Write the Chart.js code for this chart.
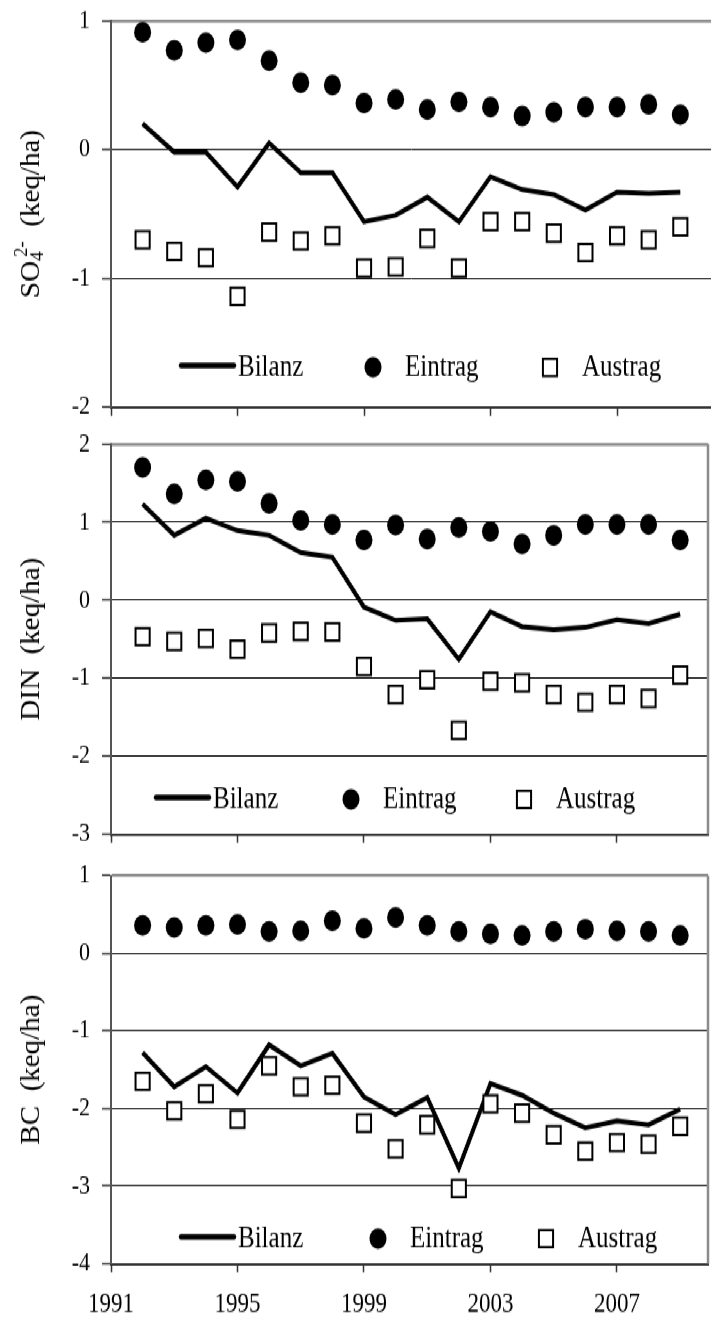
<!DOCTYPE html>
<html>
<head>
<meta charset="utf-8">
<script src="https://cdn.jsdelivr.net/npm/chart.js@4.4.1/dist/chart.umd.min.js"></script>
<style>
  html, body { margin: 0; padding: 0; background: #fff; }
  #sheet { position: relative; width: 711px; height: 1318px; overflow: hidden; }
  /* the three panels are drawn flat and stretched vertically as one sheet */
  #page { position: absolute; left: 0; top: 0; width: 711px; height: 1080px; transform: scaleY(1.2204); transform-origin: 0 0; }
  #page canvas { position: absolute; left: 0; }
</style>
</head>
<body>
<div id="sheet">
<div id="page">
  <canvas id="so4Chart" width="711" height="350" style="top:0"></canvas>
  <canvas id="dinChart" width="711" height="350" style="top:350px"></canvas>
  <canvas id="bcChart" width="711" height="380" style="top:700px"></canvas>
</div>
</div>
<script>
const years = [1992, 1993, 1994, 1995, 1996, 1997, 1998, 1999, 2000,
               2001, 2002, 2003, 2004, 2005, 2006, 2007, 2008, 2009];
const yearTicks = [1991, 1995, 1999, 2003, 2007];

// SO4 2- (keq/ha)
const so4Bilanz  = [0.20, -0.02, -0.02, -0.29, 0.05, -0.18, -0.18, -0.56, -0.51, -0.37, -0.56, -0.21, -0.31, -0.35, -0.47, -0.33, -0.34, -0.33];
const so4Eintrag = [0.91, 0.77, 0.83, 0.85, 0.69, 0.52, 0.50, 0.36, 0.39, 0.31, 0.37, 0.33, 0.26, 0.29, 0.33, 0.33, 0.35, 0.27];
const so4Austrag = [-0.70, -0.79, -0.84, -1.14, -0.64, -0.71, -0.67, -0.92, -0.91, -0.69, -0.92, -0.56, -0.56, -0.65, -0.80, -0.67, -0.70, -0.60];

// DIN (keq/ha)
const dinBilanz  = [1.23, 0.83, 1.05, 0.89, 0.83, 0.61, 0.55, -0.09, -0.26, -0.24, -0.76, -0.15, -0.34, -0.38, -0.35, -0.25, -0.30, -0.18];
const dinEintrag = [1.70, 1.36, 1.54, 1.52, 1.24, 1.02, 0.97, 0.77, 0.96, 0.78, 0.93, 0.88, 0.72, 0.83, 0.97, 0.97, 0.97, 0.77];
const dinAustrag = [-0.47, -0.53, -0.49, -0.63, -0.42, -0.40, -0.41, -0.85, -1.21, -1.02, -1.67, -1.04, -1.06, -1.21, -1.31, -1.21, -1.26, -0.96];

// BC (keq/ha)
const bcBilanz  = [-1.28, -1.72, -1.46, -1.80, -1.18, -1.45, -1.29, -1.85, -2.08, -1.86, -2.77, -1.68, -1.83, -2.06, -2.25, -2.16, -2.21, -2.01];
const bcEintrag = [0.36, 0.33, 0.36, 0.37, 0.28, 0.29, 0.42, 0.32, 0.46, 0.36, 0.28, 0.25, 0.23, 0.28, 0.31, 0.29, 0.28, 0.23];
const bcAustrag = [-1.65, -2.03, -1.81, -2.14, -1.45, -1.72, -1.70, -2.19, -2.52, -2.21, -3.03, -1.94, -2.06, -2.34, -2.55, -2.44, -2.46, -2.23];

const serif = '"Liberation Serif", "Times New Roman", serif';

// frame, in-plot legend and the rotated y title (with sub/superscripts)
const panelDecor = {
    id: 'panelDecor',
    afterDraw(chart, args, opts) {
        const ctx = chart.ctx;
        const area = chart.chartArea;
        ctx.save();

        if (opts.frameRight) {
            ctx.strokeStyle = '#8c8c8c';
            ctx.lineWidth = 2.5;
            ctx.beginPath();
            ctx.moveTo(area.right, area.top);
            ctx.lineTo(area.right, area.bottom);
            ctx.stroke();
        }

        // legend
        const ly = area.bottom - opts.legendLift;
        ctx.font = '25px ' + serif;
        ctx.textBaseline = 'middle';
        chart.data.datasets.forEach(function (ds, i) {
            const x = opts.legendX[i];
            let textX;
            if (ds.pointRadius === 0) {
                ctx.strokeStyle = ds.borderColor;
                ctx.lineWidth = 4.5;
                ctx.lineCap = 'round';
                ctx.beginPath();
                ctx.moveTo(x, ly - 1.5);
                ctx.lineTo(x + 53, ly - 1.5);
                ctx.stroke();
                textX = x + 57;
            } else {
                ctx.fillStyle = ds.pointBackgroundColor;
                ctx.strokeStyle = ds.pointBorderColor || '#000';
                ctx.lineWidth = ds.pointBorderWidth;
                Chart.helpers.drawPoint(ctx, {
                    pointStyle: ds.pointStyle,
                    radius: ds.pointRadius,
                    borderWidth: ds.pointBorderWidth,
                    rotation: 0
                }, x, ly);
                textX = x + 32;
            }
            ctx.fillStyle = '#000';
            ctx.fillText(ds.label, textX, ly);
        });

        // y title, rotated
        const t = opts.title;
        ctx.translate(t.x, (area.top + area.bottom) / 2);
        ctx.rotate(-Math.PI / 2);
        ctx.scale(t.squeeze, 1);
        ctx.textBaseline = 'alphabetic';
        ctx.fillStyle = '#000';
        let pos = 0;
        const placed = t.parts.map(function (p) {
            ctx.font = p.size + 'px ' + serif;
            const w = ctx.measureText(p.text).width;
            const start = pos - (p.back || 0);
            pos = start + w;
            return { p: p, start: start };
        });
        placed.forEach(function (q) {
            ctx.font = q.p.size + 'px ' + serif;
            ctx.fillText(q.p.text, q.start - pos / 2, q.p.dy || 0);
        });
        ctx.restore();
    }
};

function makeChart(id, cfg) {
    const pts = vals => years.map((yr, i) => ({ x: yr, y: vals[i] }));
    return new Chart(document.getElementById(id), {
        type: 'line',
        data: {
            datasets: [
                {
                    label: 'Bilanz',
                    data: pts(cfg.bilanz),
                    borderColor: '#000',
                    borderWidth: 4,
                    pointRadius: 0,
                    tension: 0,
                    order: 3
                },
                {
                    label: 'Eintrag',
                    data: pts(cfg.eintrag),
                    showLine: false,
                    pointStyle: 'circle',
                    pointRadius: 8.5,
                    pointBackgroundColor: '#000',
                    pointBorderColor: '#000',
                    pointBorderWidth: 0,
                    order: 2
                },
                {
                    label: 'Austrag',
                    data: pts(cfg.austrag),
                    showLine: false,
                    pointStyle: 'rect',
                    pointRadius: 10,
                    pointBackgroundColor: '#fff',
                    pointBorderColor: '#000',
                    pointBorderWidth: 2,
                    order: 1
                }
            ]
        },
        options: {
            responsive: false,
            animation: false,
            clip: false,
            layout: {
                autoPadding: false,
                padding: { top: cfg.padTop, right: cfg.padRight, left: 0, bottom: 0 }
            },
            plugins: {
                legend: { display: false },
                tooltip: { enabled: false },
                panelDecor: {
                    frameRight: cfg.frameRight,
                    legendLift: cfg.legendLift,
                    legendX: cfg.legendX,
                    title: cfg.title
                }
            },
            scales: {
                x: {
                    type: 'linear',
                    min: 1991,
                    max: cfg.xMax,
                    afterBuildTicks: function (scale) {
                        scale.ticks = yearTicks.map(v => ({ value: v }));
                    },
                    afterFit: function (scale) {
                        scale.height = cfg.xHeight;
                        scale.paddingLeft = scale.paddingRight = 0;
                    },
                    ticks: {
                        display: cfg.showYears,
                        color: '#000',
                        font: { family: serif, size: 23 },
                        padding: 13,
                        maxRotation: 0,
                        callback: v => String(v)
                    },
                    grid: {
                        drawOnChartArea: false,
                        drawTicks: true,
                        tickLength: 7,
                        tickColor: '#333',
                        tickWidth: 1.5
                    },
                    border: { color: '#333', width: 2 }
                },
                y: {
                    min: cfg.yMin,
                    max: cfg.yMax,
                    afterFit: function (scale) {
                        // the plot box is set by the layout padding, not by label overflow
                        scale.width = 111;
                        scale.paddingTop = scale.paddingBottom = 0;
                    },
                    ticks: {
                        stepSize: 1,
                        color: '#000',
                        font: { family: serif, size: 22 },
                        padding: 12,
                        callback: v => String(v)
                    },
                    grid: {
                        color: c => (c.tick && c.tick.value === cfg.yMax) ? '#8c8c8c' : '#000',
                        lineWidth: c => (c.tick && c.tick.value === cfg.yMax) ? 2.5 : 1,
                        tickLength: 9,
                        tickColor: '#333',
                        tickWidth: 1.5
                    },
                    border: { color: '#555', width: 2 }
                }
            }
        },
        plugins: [panelDecor]
    });
}

const unitParts = [{ text: '  (keq/ha)', size: 28 }];

makeChart('so4Chart', {
    bilanz: so4Bilanz, eintrag: so4Eintrag, austrag: so4Austrag,
    yMin: -2, yMax: 1, xMax: 2009.97,
    padTop: 17, padRight: 0, xHeight: 16.3,
    frameRight: false, showYears: false,
    legendLift: 32.6, legendX: [181, 373, 550],
    title: {
        x: 39, squeeze: 0.85,
        parts: [
            { text: 'SO', size: 28 },
            { text: '4', size: 18, dy: 4 },
            { text: '2-', size: 18, dy: -12, back: 5 }
        ].concat(unitParts)
    }
});

makeChart('dinChart', {
    bilanz: dinBilanz, eintrag: dinEintrag, austrag: dinAustrag,
    yMin: -3, yMax: 2, xMax: 2009.88,
    padTop: 13.8, padRight: 3, xHeight: 16.4,
    frameRight: true, showYears: false,
    legendLift: 28.6, legendX: [156, 351, 524],
    title: { x: 39, squeeze: 0.85, parts: [{ text: 'DIN', size: 28 }].concat(unitParts) }
});

makeChart('bcChart', {
    bilanz: bcBilanz, eintrag: bcEintrag, austrag: bcAustrag,
    yMin: -4, yMax: 1, xMax: 2009.88,
    padTop: 17.5, padRight: 3, xHeight: 44.5,
    frameRight: true, showYears: true,
    legendLift: 20.5, legendX: [181, 378, 546],
    title: { x: 39, squeeze: 0.85, parts: [{ text: 'BC', size: 28 }].concat(unitParts) }
});
</script>
</body>
</html>
